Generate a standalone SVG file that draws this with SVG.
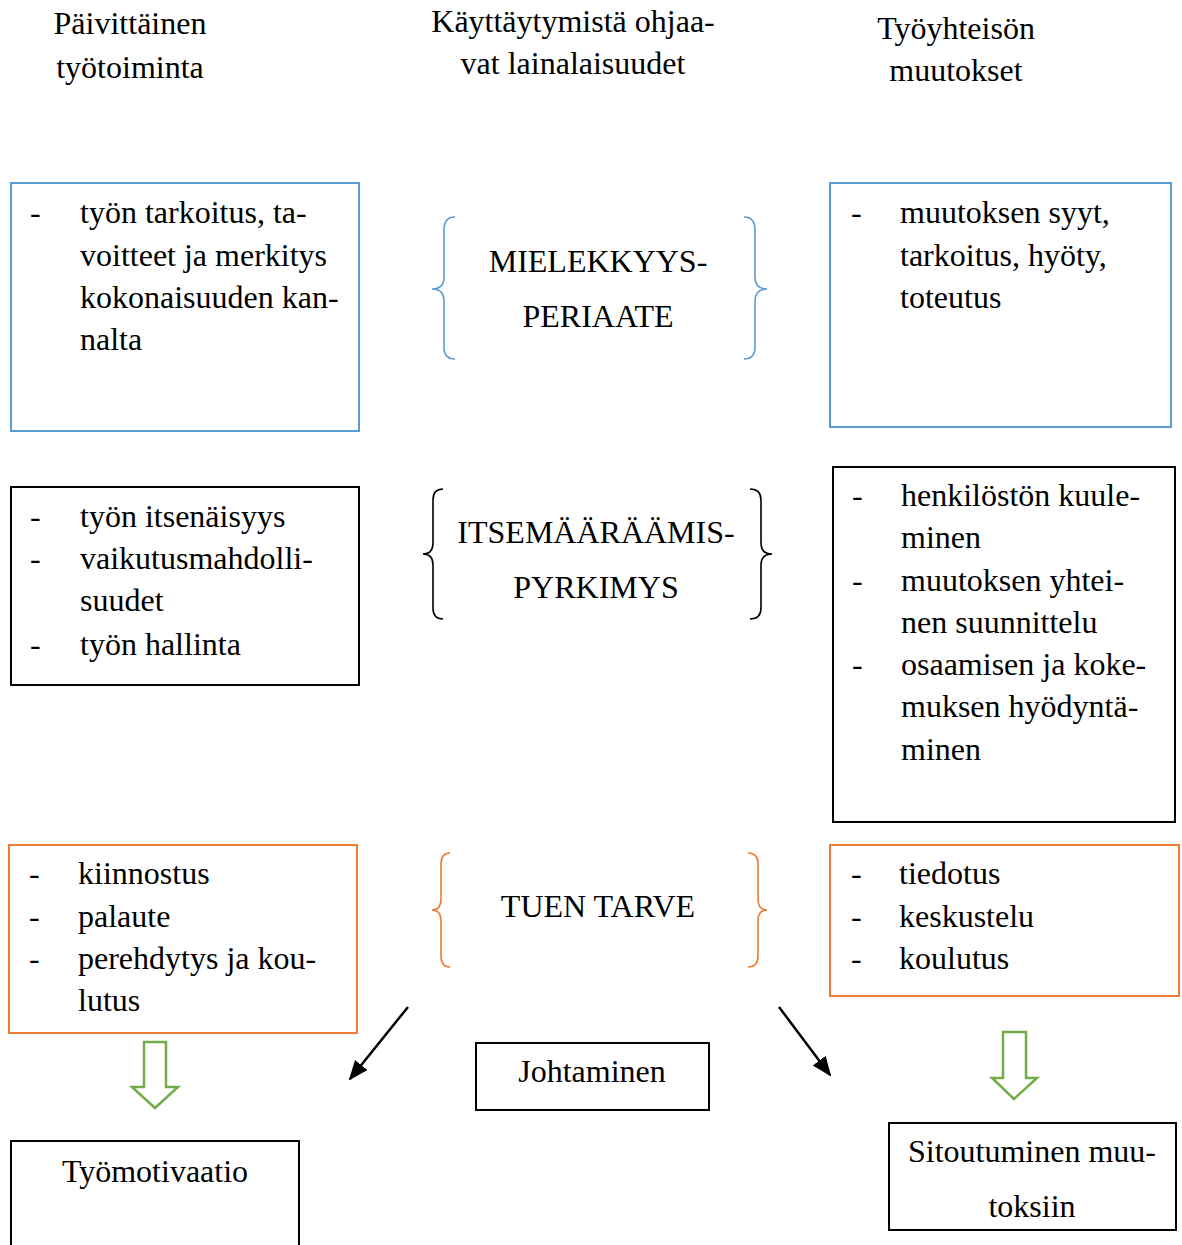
<svg xmlns="http://www.w3.org/2000/svg" width="1182" height="1245" viewBox="0 0 1182 1245">
<style>
text{font-family:"Liberation Serif","Times New Roman",serif;font-size:32px;fill:#000}
.c{text-anchor:middle}
.box{fill:#fff;stroke-width:2}
.blue{stroke:#5b9bd5}
.blk{stroke:#000}
.org{stroke:#ed7d31}
.brace{fill:none;stroke-width:1.6}
.grn{fill:#fff;stroke:#70ad47;stroke-width:2.5}
</style>
<defs>
<marker id="ah2" viewBox="0 0 20 20" refX="18" refY="10" markerWidth="20" markerHeight="20" markerUnits="userSpaceOnUse" orient="auto"><path d="M0,2 L20,10 L0,18 z" fill="#000"/></marker>
</defs>
<rect width="1182" height="1245" fill="#fff"/>

<g id="headers">
<text class="c" x="130" y="34">Päivittäinen</text>
<text class="c" x="130" y="78">työtoiminta</text>
<text class="c" x="573" y="32">Käyttäytymistä ohjaa-</text>
<text class="c" x="573" y="74">vat lainalaisuudet</text>
<text class="c" x="956" y="39">Työyhteisön</text>
<text class="c" x="956" y="81">muutokset</text>
</g>

<g id="box-tarkoitus">
<rect class="box blue" x="11" y="183" width="348" height="248"/>
<text x="30" y="223">-</text>
<text x="80" y="223">työn tarkoitus, ta-</text>
<text x="80" y="266">voitteet ja merkitys</text>
<text x="80" y="308">kokonaisuuden kan-</text>
<text x="80" y="350">nalta</text>
</g>

<g id="brace-mielekkyys">
<path class="brace blue" d="M455,217 Q444,217 444,230 L444,277 Q444,289 432,289 Q444,289 444,301 L444,347 Q444,359 455,359"/>
<path class="brace blue" d="M744,217 Q755,217 755,230 L755,277 Q755,289 767,289 Q755,289 755,301 L755,347 Q755,359 744,359"/>
<text class="c" x="598" y="272">MIELEKKYYS-</text>
<text class="c" x="598" y="327">PERIAATE</text>
</g>

<g id="box-syyt">
<rect class="box blue" x="830" y="183" width="341" height="244"/>
<text x="851" y="223">-</text>
<text x="900" y="223">muutoksen syyt,</text>
<text x="900" y="266">tarkoitus, hyöty,</text>
<text x="900" y="308">toteutus</text>
</g>

<g id="box-itsenaisyys">
<rect class="box blk" x="11" y="487" width="348" height="198"/>
<text x="30" y="527">-</text>
<text x="80" y="527">työn itsenäisyys</text>
<text x="30" y="569">-</text>
<text x="80" y="569">vaikutusmahdolli-</text>
<text x="80" y="611">suudet</text>
<text x="30" y="655">-</text>
<text x="80" y="655">työn hallinta</text>
</g>

<g id="brace-itsemaaraamis">
<path class="brace blk" d="M443,489 Q433,489 433,500 L433,543 Q433,554 423,554 Q433,554 433,565 L433,608 Q433,619 443,619"/>
<path class="brace blk" d="M750,489 Q761,489 761,500 L761,543 Q761,554 772,554 Q761,554 761,565 L761,608 Q761,619 750,619"/>
<text class="c" x="596" y="543">ITSEMÄÄRÄÄMIS-</text>
<text class="c" x="596" y="598">PYRKIMYS</text>
</g>

<g id="box-kuuleminen">
<rect class="box blk" x="833" y="467" width="342" height="355"/>
<text x="852" y="506">-</text>
<text x="901" y="506">henkilöstön kuule-</text>
<text x="901" y="548">minen</text>
<text x="852" y="591">-</text>
<text x="901" y="591">muutoksen yhtei-</text>
<text x="901" y="633">nen suunnittelu</text>
<text x="852" y="675">-</text>
<text x="901" y="675">osaamisen ja koke-</text>
<text x="901" y="717">muksen hyödyntä-</text>
<text x="901" y="760">minen</text>
</g>

<g id="box-kiinnostus">
<rect class="box org" x="9" y="845" width="348" height="188"/>
<text x="29" y="884">-</text>
<text x="78" y="884">kiinnostus</text>
<text x="29" y="927">-</text>
<text x="78" y="927">palaute</text>
<text x="29" y="969">-</text>
<text x="78" y="969">perehdytys ja kou-</text>
<text x="78" y="1011">lutus</text>
</g>

<g id="brace-tuen">
<path class="brace org" d="M450,853 Q441,853 441,864 L441,899 Q441,910 432,910 Q441,910 441,921 L441,956 Q441,967 450,967"/>
<path class="brace org" d="M748,853 Q758,853 758,864 L758,899 Q758,910 767,910 Q758,910 758,921 L758,956 Q758,967 748,967"/>
<text class="c" x="598" y="917">TUEN TARVE</text>
</g>

<g id="box-tiedotus">
<rect class="box org" x="830" y="845" width="349" height="151"/>
<text x="851" y="884">-</text>
<text x="899" y="884">tiedotus</text>
<text x="851" y="927">-</text>
<text x="899" y="927">keskustelu</text>
<text x="851" y="969">-</text>
<text x="899" y="969">koulutus</text>
</g>

<g id="box-johtaminen">
<rect class="box blk" x="476" y="1043" width="233" height="67"/>
<text class="c" x="592" y="1082">Johtaminen</text>
</g>

<g id="box-tyomotivaatio">
<rect class="box blk" x="11" y="1141" width="288" height="112"/>
<text class="c" x="155" y="1182">Työmotivaatio</text>
</g>

<g id="box-sitoutuminen">
<rect class="box blk" x="889" y="1123" width="287" height="107"/>
<text class="c" x="1032" y="1162">Sitoutuminen muu-</text>
<text class="c" x="1032" y="1217">toksiin</text>
</g>

<g id="connectors">
<line x1="408" y1="1007" x2="350" y2="1079" stroke="#000" stroke-width="2.5" marker-end="url(#ah2)"/>
<line x1="779" y1="1007" x2="830" y2="1075" stroke="#000" stroke-width="2.5" marker-end="url(#ah2)"/>
<path class="grn" d="M144,1042 L166,1042 L166,1087 L178,1087 L155,1108 L132,1087 L144,1087 Z"/>
<path class="grn" d="M1003,1032 L1026,1032 L1026,1078 L1037,1078 L1014,1099 L992,1078 L1003,1078 Z"/>
</g>
</svg>
